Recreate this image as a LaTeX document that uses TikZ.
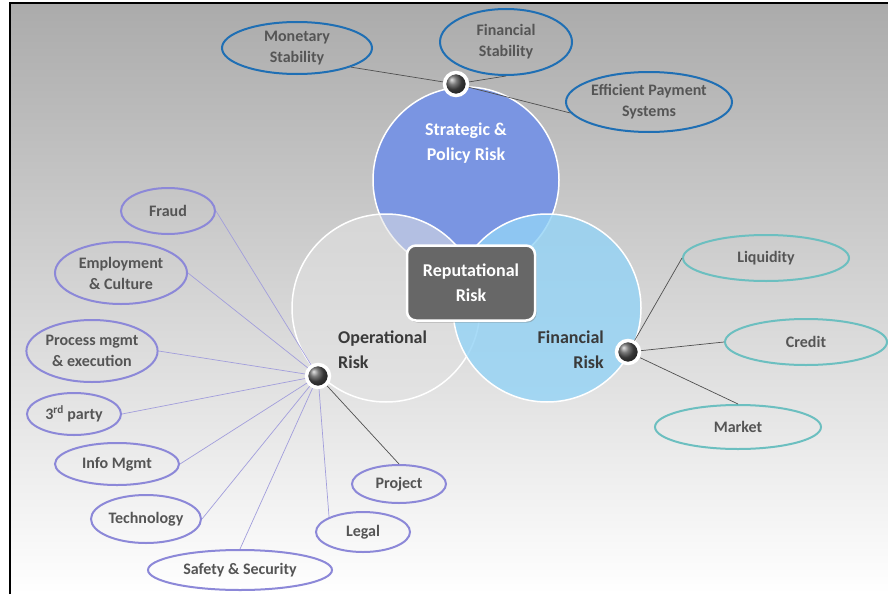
\documentclass[tikz,border=0pt]{standalone}
\usepackage{fontspec}
\setmainfont{Carlito}
\usetikzlibrary{shapes.geometric,shadows}
\definecolor{bgtop}{HTML}{ABABAB}
\definecolor{stratc}{HTML}{7A95E2}
\definecolor{opc}{HTML}{E2E2E2}
\definecolor{finc}{HTML}{93D3F6}
\definecolor{topring}{HTML}{1F6FB4}
\definecolor{leftring}{HTML}{8C88D8}
\definecolor{rightring}{HTML}{6CBFC0}
\definecolor{txtgray}{HTML}{555555}
\definecolor{lbldark}{HTML}{3A3A3A}
\definecolor{boxc}{HTML}{676767}
\definecolor{linegray}{HTML}{505050}
\definecolor{linepurple}{HTML}{A29EDC}
\pgfdeclarelayer{bg}
\pgfdeclarelayer{conn}
\pgfsetlayers{bg,conn,main}
\tikzset{
  bubble/.style={ellipse, inner sep=0pt, line width=2pt, align=center,
    text=txtgray, font=\fontsize{16}{21}\selectfont\bfseries},
  topbub/.style={bubble, draw=topring},
  leftbub/.style={bubble, draw=leftring},
  rightbub/.style={bubble, draw=rightring},
  bigcirc/.style={circle, inner sep=0pt, draw=white, line width=1.5pt},
  hub/.style={circle, minimum size=23pt, inner sep=0pt, ball color=black!70,
    draw=white, line width=3.5pt, drop shadow={opacity=0.35, shadow xshift=1pt, shadow yshift=-1pt}},
  biglbl/.style={font=\fontsize{18}{25}\selectfont\bfseries, inner sep=0pt},
  conngray/.style={draw=linegray, line width=0.7pt},
  connpurple/.style={draw=linepurple, line width=0.7pt},
}
\begin{document}
\begin{tikzpicture}[x=1pt,y=-1pt]
\useasboundingbox (0,0) rectangle (888,594);
\begin{pgfonlayer}{bg}
  \shade[top color=bgtop, bottom color=white] (10,3) rectangle (888,594);
  \draw[line width=2.5pt] (10,594) -- (10,3) -- (888,3);
  % circles
  \node[bigcirc, fill=stratc, minimum size=186pt] (strat) at (466,180) {};
  \node[bigcirc, fill=opc, fill opacity=0.55, minimum size=188pt] (oper) at (386,308) {};
  \node[bigcirc, fill=finc, fill opacity=0.8, minimum size=188pt] (fin) at (547,308) {};
  % top bubbles
  \node[topbub, minimum width=150pt, minimum height=52pt] (mon) at (297,48) {Monetary\\Stability};
  \node[topbub, minimum width=132pt, minimum height=66pt] (fstab) at (506,42) {Financial\\Stability};
  \node[topbub, minimum width=166pt, minimum height=60pt] (eff) at (649,102) {Efficient Payment\\Systems};
  % left bubbles
  \node[leftbub, minimum width=94pt, minimum height=46pt] (fraud) at (168,211) {Fraud};
  \node[leftbub, minimum width=132pt, minimum height=62pt] (empl) at (121,273) {Employment\\\& Culture};
  \node[leftbub, minimum width=130pt, minimum height=62pt] (proc) at (92,351) {Process mgmt\\\& execution};
  \node[leftbub, minimum width=94pt, minimum height=42pt] (third) at (74,414) {3\textsuperscript{rd} party};
  \node[leftbub, minimum width=124pt, minimum height=42pt] (info) at (117,464) {Info Mgmt};
  \node[leftbub, minimum width=110pt, minimum height=48pt] (tech) at (146,519) {Technology};
  \node[leftbub, minimum width=184pt, minimum height=40pt] (safe) at (240,570) {Safety \& Security};
  \node[leftbub, minimum width=94pt, minimum height=40pt] (legal) at (363,532) {Legal};
  \node[leftbub, minimum width=94pt, minimum height=38pt] (proj) at (399,484) {Project};
  % right bubbles
  \node[rightbub, minimum width=166pt, minimum height=46pt] (liq) at (766,258) {Liquidity};
  \node[rightbub, minimum width=162pt, minimum height=46pt] (cred) at (806,342) {Credit};
  \node[rightbub, minimum width=166pt, minimum height=44pt] (mkt) at (738,427) {Market};
\end{pgfonlayer}
% circle labels
\node[biglbl, text=white, align=center] (stratlbl) at (466,143) {Strategic \&\\Policy Risk};
\node[biglbl, text=lbldark, align=left, anchor=west] (oplbl) at (338,350) {Operational\\Risk};
\node[biglbl, text=lbldark, align=right, anchor=east] (finlbl) at (604,350) {Financial\\Risk};
% central box
\node[rectangle, rounded corners=9pt, fill=boxc, draw=white, line width=2.5pt,
  minimum width=128pt, minimum height=75pt, align=center, text=white,
  font=\fontsize{18}{25}\selectfont\bfseries,
  drop shadow={opacity=0.45, shadow xshift=1.5pt, shadow yshift=-2pt}] (rep) at (471,283) {Reputational\\Risk};
% hubs
\node[hub] (shub) at (456,84) {};
\node[hub] (ohub) at (318,376) {};
\node[hub] (fhub) at (628,352) {};
\begin{pgfonlayer}{conn}
  \draw[conngray] (shub.center) -- (mon.south east);
  \draw[conngray] (shub.center) -- (fstab.south);
  \draw[conngray] (shub.center) -- (eff.188);
  \draw[connpurple] (ohub.center) -- (fraud.east);
  \draw[connpurple] (ohub.center) -- (empl.east);
  \draw[connpurple] (ohub.center) -- (proc.east);
  \draw[connpurple] (ohub.center) -- (third.east);
  \draw[connpurple] (ohub.center) -- (info.east);
  \draw[connpurple] (ohub.center) -- (tech.east);
  \draw[connpurple] (ohub.center) -- (safe.north);
  \draw[connpurple] (ohub.center) -- (legal.north west);
  \draw[conngray] (ohub.center) -- (proj.north);
  \draw[conngray] (fhub.center) -- (liq.west);
  \draw[conngray] (fhub.center) -- (cred.west);
  \draw[conngray] (fhub.center) -- (mkt.north);
\end{pgfonlayer}
\end{tikzpicture}
\end{document}
